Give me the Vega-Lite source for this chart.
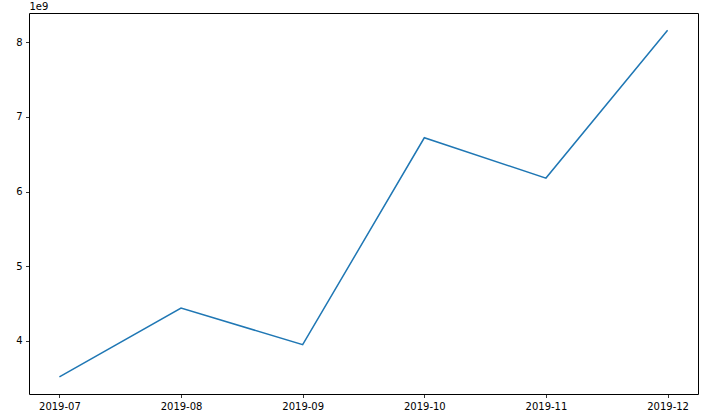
{
  "$schema": "https://vega.github.io/schema/vega-lite/v6.json",
  "autosize": {"type": "none"},
  "padding": {"left": 29, "top": 13, "right": 27, "bottom": 22},
  "width": 669,
  "height": 381,
  "background": "white",
  "config": {
    "view": {"stroke": "black", "strokeWidth": 1},
    "font": "DejaVu Sans",
    "axis": {
      "labelFont": "DejaVu Sans",
      "labelFontSize": 10,
      "labelColor": "black",
      "tickColor": "black",
      "tickSize": 3.5,
      "tickWidth": 0.8,
      "domain": false,
      "grid": false,
      "labelPadding": 3.5
    }
  },
  "data": {
    "values": [
      {"month": "2019-07", "value": 3520000000},
      {"month": "2019-08", "value": 4440000000},
      {"month": "2019-09", "value": 3950000000},
      {"month": "2019-10", "value": 6720000000},
      {"month": "2019-11", "value": 6180000000},
      {"month": "2019-12", "value": 8160000000}
    ]
  },
  "mark": {"type": "line", "color": "#1f77b4", "strokeWidth": 1.5},
  "encoding": {
    "x": {
      "field": "month",
      "type": "ordinal",
      "sort": null,
      "scale": {"type": "point", "padding": 0.25},
      "axis": {"title": null, "labelAngle": 0}
    },
    "y": {
      "field": "value",
      "type": "quantitative",
      "scale": {"domain": [3290000000, 8390000000], "nice": false, "zero": false},
      "axis": {
        "values": [4000000000, 5000000000, 6000000000, 7000000000, 8000000000],
        "labelExpr": "format(datum.value / 1e9, 'd')",
        "title": "1e9",
        "titleAngle": 0,
        "titleX": 0,
        "titleY": -2,
        "titleAlign": "left",
        "titleBaseline": "bottom",
        "titleFont": "DejaVu Sans",
        "titleFontSize": 10,
        "titleFontWeight": "normal",
        "titleColor": "black"
      }
    }
  }
}
